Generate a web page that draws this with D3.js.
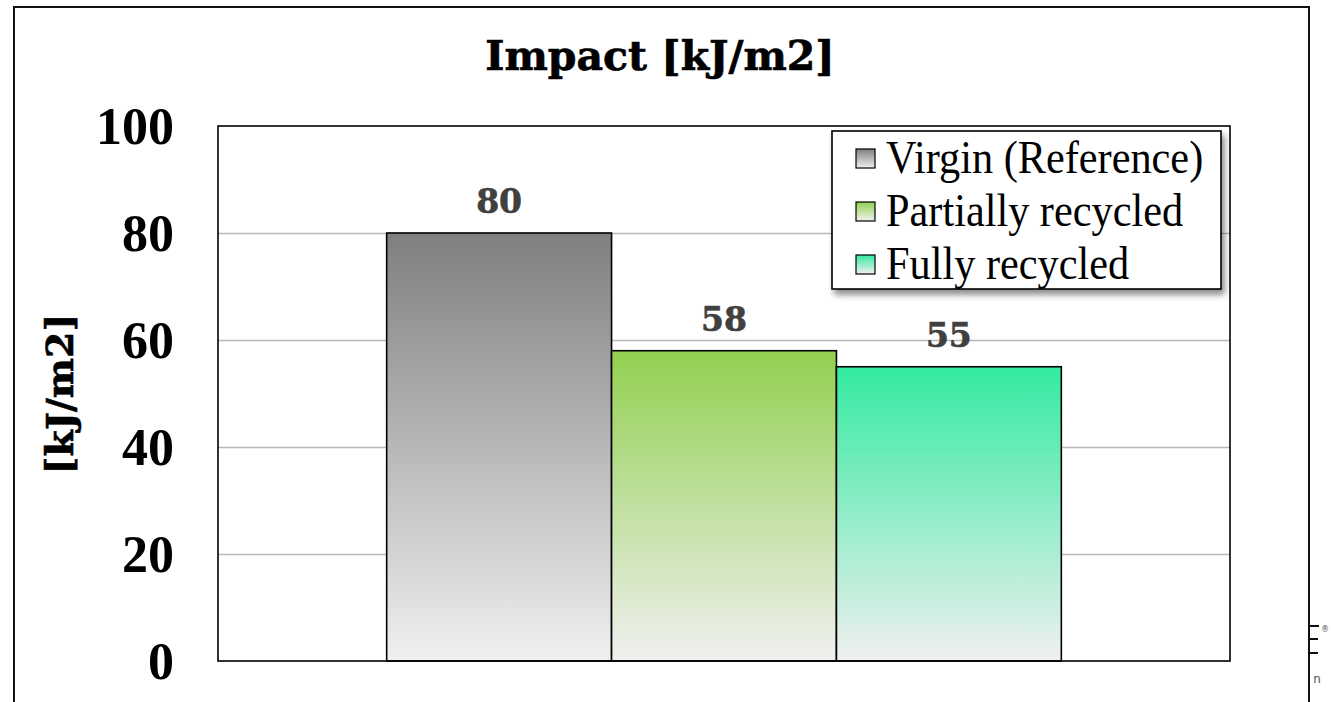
<!DOCTYPE html>
<html>
<head>
<meta charset="utf-8">
<script src="https://cdn.jsdelivr.net/npm/d3@7"></script>
<style>
  html, body { margin: 0; padding: 0; background: #fff; }
  svg { display: block; }
</style>
</head>
<body>
<svg id="chart" width="1332" height="702"></svg>
<script>
// ---- data ----
const categories = [""];
const seriesNames = ["Virgin (Reference)", "Partially recycled", "Fully recycled"];
const seriesValues = [80, 58, 55];
const seriesColors = ["#7f7f7f", "#92d050", "#33eaa0"];
const yTicks = [0, 20, 40, 60, 80, 100];
const titleText = "Impact [kJ/m2]";
const yTitleText = "[kJ/m2]";

const svg = d3.select("#chart");
const W = 1332, H = 702;
const plot = { left: 218, top: 126, right: 1230, bottom: 661 };

// gradients
const defs = svg.append("defs");
seriesColors.forEach((c, i) => {
  const g = defs.append("linearGradient").attr("id", "grad" + i)
    .attr("x1", 0).attr("y1", 0).attr("x2", 0).attr("y2", 1);
  g.append("stop").attr("offset", "0%").attr("stop-color", c);
  g.append("stop").attr("offset", "100%").attr("stop-color", "#f0f0f0");
});
const f = defs.append("filter").attr("id", "shadow")
  .attr("x", "-10%").attr("y", "-10%").attr("width", "130%").attr("height", "140%");
f.append("feDropShadow").attr("dx", 3).attr("dy", 5).attr("stdDeviation", 3)
  .attr("flood-color", "#000").attr("flood-opacity", 0.45);

// outer frame
svg.append("path")
  .attr("d", `M14,${H} V7 H1309 V${H}`)
  .attr("fill", "none").attr("stroke", "#111").attr("stroke-width", 2);
// small edge artifacts
[[626, 1319], [639, 1318], [653, 1318]].forEach(([y, x2]) => {
  svg.append("line").attr("x1", 1309).attr("x2", x2).attr("y1", y).attr("y2", y)
    .attr("stroke", "#111").attr("stroke-width", 2);
});
svg.append("text").attr("x", 1325).attr("y", 632).attr("text-anchor", "middle")
  .attr("font-family", "DejaVu Sans").attr("font-size", 8).attr("fill", "#555").text("®");
svg.append("text").attr("x", 1317).attr("y", 683).attr("text-anchor", "middle")
  .attr("font-family", "DejaVu Sans").attr("font-size", 12).attr("fill", "#555").text("n");

// scales
const y = d3.scaleLinear().domain([0, 100]).range([plot.bottom, plot.top]);
const x0 = d3.scaleBand().domain(categories).range([plot.left, plot.right])
  .paddingInner(0.2).paddingOuter(0.2);
const x1 = d3.scaleBand().domain(seriesNames).range([0, x0.bandwidth()]).padding(0);

// gridlines
svg.append("g").selectAll("line").data(yTicks.filter(t => t > 0 && t < 100)).join("line")
  .attr("x1", plot.left).attr("x2", plot.right)
  .attr("y1", d => Math.round(y(d)) + 0.5).attr("y2", d => Math.round(y(d)) + 0.5)
  .attr("stroke", "#b8b8b8").attr("stroke-width", 1.5);

// y axis labels
const yAxis = d3.axisLeft(y).tickValues(yTicks).tickSize(0).tickPadding(44).tickFormat(d3.format("d"));
const ya = svg.append("g").attr("transform", `translate(${plot.left},0)`).call(yAxis);
ya.select(".domain").remove();
ya.selectAll("text")
  .attr("font-family", "Liberation Serif").attr("font-weight", "bold")
  .attr("font-size", 52).attr("fill", "#000").attr("dy", "0.33em");

// bars
const bars = svg.append("g");
categories.forEach(cat => {
  bars.selectAll("rect.bar").data(seriesValues).join("rect").attr("class", "bar")
    .attr("x", (d, i) => x0(cat) + x1(seriesNames[i]))
    .attr("width", x1.bandwidth())
    .attr("y", d => y(d))
    .attr("height", d => y(0) - y(d))
    .attr("fill", (d, i) => `url(#grad${i})`)
    .attr("stroke", "#000").attr("stroke-width", 1.6);
  bars.selectAll("text.lbl").data(seriesValues).join("text").attr("class", "lbl")
    .attr("x", (d, i) => x0(cat) + x1(seriesNames[i]) + x1.bandwidth() / 2)
    .attr("y", d => y(d) - 20)
    .attr("text-anchor", "middle")
    .attr("font-family", "DejaVu Serif").attr("font-weight", "bold")
    .attr("font-size", 33).attr("fill", "#404040")
    .attr("stroke", "#404040").attr("stroke-width", 0.6)
    .text(d => d);
});

// plot border
svg.append("rect").attr("x", plot.left).attr("y", plot.top)
  .attr("width", plot.right - plot.left).attr("height", plot.bottom - plot.top)
  .attr("fill", "none").attr("stroke", "#000").attr("stroke-width", 1.6);

// title
svg.append("text").attr("x", 660).attr("y", 70).attr("text-anchor", "middle")
  .attr("font-family", "DejaVu Serif").attr("font-weight", "bold")
  .attr("font-size", 41).attr("fill", "#000")
  .attr("stroke", "#000").attr("stroke-width", 0.7).text(titleText);

// y title
svg.append("text").attr("transform", "translate(73,394) rotate(-90)")
  .attr("text-anchor", "middle")
  .attr("font-family", "DejaVu Serif").attr("font-weight", "bold")
  .attr("font-size", 38).attr("fill", "#000")
  .attr("stroke", "#000").attr("stroke-width", 0.6).text(yTitleText);

// legend
const lg = svg.append("g");
lg.append("rect").attr("x", 832).attr("y", 131).attr("width", 389).attr("height", 158)
  .attr("fill", "#fff").attr("stroke", "#000").attr("stroke-width", 1.6)
  .attr("filter", "url(#shadow)");
const rowY = d3.scalePoint().domain(seriesNames).range([158, 264]);
seriesNames.forEach((s, i) => {
  lg.append("rect").attr("x", 856).attr("y", rowY(s) - 9).attr("width", 19).attr("height", 19)
    .attr("fill", `url(#grad${i})`).attr("stroke", "#000").attr("stroke-width", 1.2);
  lg.append("text")
    .attr("transform", `translate(886,${rowY(s) + 15}) scale(0.9,1)`)
    .attr("font-family", "Liberation Serif").attr("font-size", 47).attr("fill", "#000")
    .text(s);
});
</script>
</body>
</html>
